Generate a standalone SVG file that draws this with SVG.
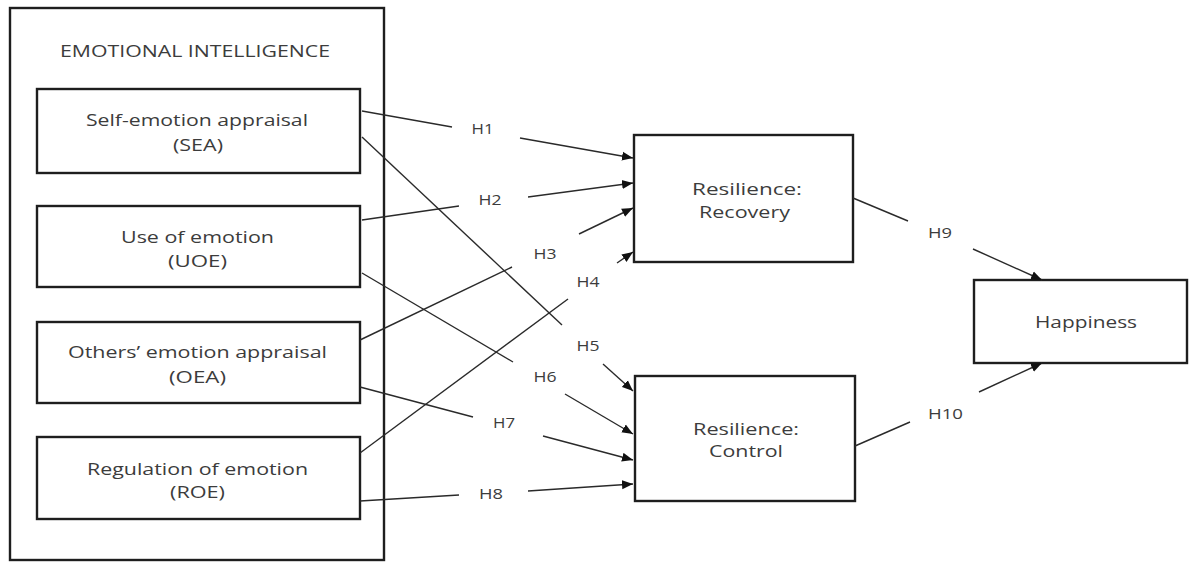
<svg xmlns="http://www.w3.org/2000/svg" width="1189" height="563" viewBox="0 0 1189 563">
<style>
.box{fill:#fff;stroke:#1e1e1e;stroke-width:2.4}
.t{font-family:"Open Sans","Liberation Sans",sans-serif;font-size:17px;fill:#3c3c3c;text-anchor:middle}
.h{font-family:"Open Sans","Liberation Sans",sans-serif;font-size:14px;fill:#3c3c3c;text-anchor:middle}
.c{stroke:#2a2a2a;stroke-width:1.4;fill:none}
</style>
<defs>
<marker id="arr" markerUnits="userSpaceOnUse" markerWidth="12" markerHeight="10" refX="11" refY="5" orient="auto">
<path d="M0,0.5 L11,5 L0,9.5 Z" fill="#111"/>
</marker>
</defs>
<rect width="1189" height="563" fill="#fff"/>
<g id="emotional-intelligence">
<rect class="box" x="10" y="8" width="374" height="552"/>
<text class="t" x="195" y="57" textLength="270" lengthAdjust="spacingAndGlyphs">EMOTIONAL INTELLIGENCE</text>
</g>
<g id="sea">
<rect class="box" x="37" y="89" width="323" height="84"/>
<text class="t" x="197" y="126" textLength="222" lengthAdjust="spacingAndGlyphs">Self-emotion appraisal</text>
<text class="t" x="198" y="151" textLength="50" lengthAdjust="spacingAndGlyphs">(SEA)</text>
</g>
<g id="uoe">
<rect class="box" x="37" y="206" width="323" height="81"/>
<text class="t" x="197.5" y="243" textLength="153" lengthAdjust="spacingAndGlyphs">Use of emotion</text>
<text class="t" x="197.5" y="267" textLength="59" lengthAdjust="spacingAndGlyphs">(UOE)</text>
</g>
<g id="oea">
<rect class="box" x="37" y="322" width="323" height="81"/>
<text class="t" x="197.5" y="358" textLength="259" lengthAdjust="spacingAndGlyphs">Others’ emotion appraisal</text>
<text class="t" x="197.5" y="383" textLength="57" lengthAdjust="spacingAndGlyphs">(OEA)</text>
</g>
<g id="roe">
<rect class="box" x="37" y="437" width="323" height="82"/>
<text class="t" x="197.5" y="475" textLength="221" lengthAdjust="spacingAndGlyphs">Regulation of emotion</text>
<text class="t" x="197.5" y="498" textLength="55" lengthAdjust="spacingAndGlyphs">(ROE)</text>
</g>
<g id="recovery">
<rect class="box" x="634" y="135" width="219" height="127"/>
<text class="t" x="747" y="195" textLength="110" lengthAdjust="spacingAndGlyphs">Resilience:</text>
<text class="t" x="744.5" y="218" textLength="91" lengthAdjust="spacingAndGlyphs">Recovery</text>
</g>
<g id="control">
<rect class="box" x="635" y="376" width="220" height="125"/>
<text class="t" x="746" y="435" textLength="106" lengthAdjust="spacingAndGlyphs">Resilience:</text>
<text class="t" x="746" y="457" textLength="74" lengthAdjust="spacingAndGlyphs">Control</text>
</g>
<g id="happiness">
<rect class="box" x="974" y="280" width="213" height="83"/>
<text class="t" x="1086" y="328" textLength="102" lengthAdjust="spacingAndGlyphs">Happiness</text>
</g>
<g id="connectors">
<line class="c" x1="362" y1="111" x2="452" y2="127"/><line class="c" x1="520" y1="138" x2="633" y2="158" marker-end="url(#arr)"/>
<line class="c" x1="362" y1="220" x2="459" y2="206"/><line class="c" x1="528" y1="197" x2="633" y2="183" marker-end="url(#arr)"/>
<line class="c" x1="360" y1="340" x2="512" y2="267"/><line class="c" x1="579" y1="234" x2="633" y2="208" marker-end="url(#arr)"/>
<line class="c" x1="360" y1="453" x2="568" y2="299"/><line class="c" x1="617" y1="263" x2="633" y2="252" marker-end="url(#arr)"/>
<line class="c" x1="362" y1="137" x2="562" y2="325"/><line class="c" x1="603" y1="364" x2="633" y2="391" marker-end="url(#arr)"/>
<line class="c" x1="362" y1="273" x2="513" y2="362"/><line class="c" x1="565" y1="394" x2="633" y2="434" marker-end="url(#arr)"/>
<line class="c" x1="360" y1="387" x2="473" y2="417"/><line class="c" x1="543" y1="436" x2="633" y2="460" marker-end="url(#arr)"/>
<line class="c" x1="360" y1="501" x2="459" y2="495"/><line class="c" x1="528" y1="491" x2="633" y2="484" marker-end="url(#arr)"/>
<line class="c" x1="853" y1="198" x2="908" y2="221"/><line class="c" x1="973" y1="249" x2="1042" y2="280" marker-end="url(#arr)"/>
<line class="c" x1="855" y1="446" x2="910" y2="422"/><line class="c" x1="979" y1="392" x2="1042" y2="363" marker-end="url(#arr)"/>
<text class="h" x="482.5" y="134" textLength="22" lengthAdjust="spacingAndGlyphs">H1</text>
<text class="h" x="490" y="205" textLength="23" lengthAdjust="spacingAndGlyphs">H2</text>
<text class="h" x="545" y="259" textLength="23" lengthAdjust="spacingAndGlyphs">H3</text>
<text class="h" x="588" y="287" textLength="23" lengthAdjust="spacingAndGlyphs">H4</text>
<text class="h" x="588" y="351" textLength="23" lengthAdjust="spacingAndGlyphs">H5</text>
<text class="h" x="545" y="382" textLength="23" lengthAdjust="spacingAndGlyphs">H6</text>
<text class="h" x="504" y="428" textLength="22" lengthAdjust="spacingAndGlyphs">H7</text>
<text class="h" x="491" y="499" textLength="24" lengthAdjust="spacingAndGlyphs">H8</text>
<text class="h" x="940" y="238" textLength="24" lengthAdjust="spacingAndGlyphs">H9</text>
<text class="h" x="945.5" y="419" textLength="35" lengthAdjust="spacingAndGlyphs">H10</text>
</g>
</svg>
